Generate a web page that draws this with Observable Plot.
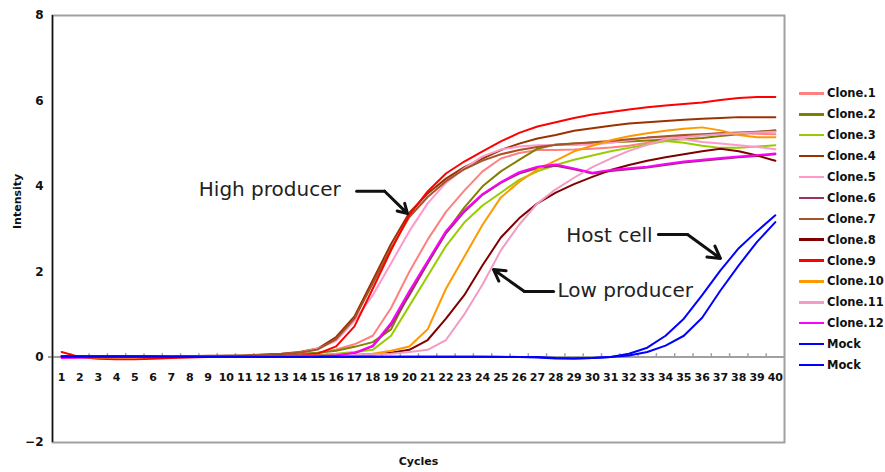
<!DOCTYPE html>
<html>
<head>
<meta charset="utf-8">
<script src="https://cdn.jsdelivr.net/npm/d3@7"></script>
<script src="https://cdn.jsdelivr.net/npm/@observablehq/plot@0.6"></script>
<style>
  html, body { margin: 0; padding: 0; background: #fff; }
  #wrap { position: relative; width: 885px; height: 472px; font-family: "DejaVu Sans", sans-serif; }
  #legend { position: absolute; left: 799px; top: 83px; }
  .row { display: flex; align-items: center; height: 20.9px; }
  .sw { width: 25px; height: 2.5px; margin-right: 3px; }
  .lab { font-size: 11.5px; font-weight: bold; color: #111; white-space: nowrap; }
  g[aria-label="annotation"] text { letter-spacing: 0.7px; }
</style>
</head>
<body>
<div id="wrap"><div id="legend"></div></div>
<script>
const cycles = d3.range(1, 41);
const yTicks = [-2, 0, 2, 4, 6, 8];
const seriesNames = ["Clone.1","Clone.2","Clone.3","Clone.4","Clone.5","Clone.6","Clone.7","Clone.8","Clone.9","Clone.10","Clone.11","Clone.12","Mock","Mock"];
const seriesColors = ["#FF8080","#808000","#99CC00","#993300","#FF99CC","#993366","#A5542A","#800000","#FF0000","#FF9900","#F29BC4","#FF00FF","#0000FF","#0000FF"];

const clone1 = [0.02,0.01,0.01,0.01,0.01,0.01,0.01,0.01,0.02,0.02,0.02,0.03,0.04,0.06,0.1,0.18,0.3,0.5,1.15,2.0,2.75,3.4,3.9,4.35,4.65,4.78,4.85,4.85,4.86,4.88,4.91,4.95,5.02,5.12,5.18,5.21,5.24,5.24,5.23,5.22];
const clone2 = [0.02,0.01,0.01,0.01,0.01,0.01,0.01,0.02,0.02,0.02,0.03,0.03,0.04,0.07,0.1,0.15,0.24,0.35,0.65,1.5,2.2,2.92,3.5,4.0,4.35,4.62,4.88,4.98,5.0,5.02,5.03,5.05,5.07,5.09,5.1,5.13,5.18,5.22,5.27,5.31];
const clone3 = [0.01,0.0,0.0,0.0,0.0,0.0,0.0,0.01,0.01,0.01,0.01,0.02,0.02,0.03,0.05,0.08,0.12,0.17,0.5,1.2,1.9,2.6,3.15,3.55,3.85,4.15,4.35,4.5,4.62,4.72,4.82,4.9,4.98,5.06,5.02,4.95,4.9,4.9,4.93,4.96];
const clone4 = [0.02,0.01,0.01,0.01,0.01,0.01,0.02,0.02,0.03,0.03,0.04,0.06,0.08,0.12,0.2,0.47,0.95,1.8,2.65,3.38,3.83,4.18,4.45,4.65,4.85,5.0,5.12,5.2,5.3,5.36,5.42,5.47,5.5,5.53,5.56,5.58,5.6,5.62,5.62,5.62];
const clone5 = [0.01,0.0,0.0,0.0,0.0,0.0,0.01,0.01,0.02,0.02,0.03,0.04,0.06,0.1,0.2,0.38,0.85,1.45,2.2,2.95,3.6,4.08,4.42,4.7,4.86,4.93,4.96,4.97,4.97,4.98,5.02,5.08,5.14,5.15,5.1,5.04,5.0,4.96,4.92,4.87];
const clone6 = [-0.01,-0.01,0.0,0.0,0.0,0.0,0.0,0.0,0.0,0.0,0.01,0.01,0.01,0.01,0.02,0.04,0.09,0.25,0.75,1.45,2.2,2.9,3.4,3.8,4.08,4.3,4.43,4.48,4.4,4.3,4.36,4.4,4.44,4.5,4.56,4.6,4.64,4.68,4.71,4.75];
const clone7 = [0.02,0.01,0.01,0.01,0.01,0.01,0.01,0.02,0.02,0.03,0.04,0.05,0.07,0.1,0.18,0.42,0.9,1.72,2.55,3.28,3.75,4.12,4.4,4.6,4.75,4.85,4.92,4.97,5.0,5.03,5.06,5.1,5.14,5.17,5.2,5.22,5.24,5.26,5.28,5.3];
const clone8 = [0.02,0.01,0.01,0.01,0.01,0.01,0.01,0.01,0.01,0.02,0.02,0.02,0.03,0.03,0.04,0.04,0.05,0.06,0.1,0.17,0.4,0.9,1.45,2.15,2.8,3.25,3.6,3.85,4.05,4.22,4.38,4.5,4.6,4.68,4.75,4.82,4.88,4.82,4.72,4.6];
const clone9 = [0.12,0.0,-0.04,-0.05,-0.05,-0.04,-0.02,-0.01,0.0,0.0,0.0,0.01,0.02,0.04,0.08,0.25,0.72,1.6,2.5,3.33,3.88,4.3,4.58,4.82,5.05,5.25,5.4,5.5,5.6,5.68,5.74,5.8,5.85,5.89,5.93,5.96,6.02,6.07,6.09,6.09];
const clone10 = [0.01,0.0,-0.01,-0.01,-0.01,0.0,0.0,0.0,0.0,0.01,0.01,0.01,0.02,0.02,0.03,0.04,0.05,0.08,0.15,0.25,0.65,1.6,2.35,3.1,3.74,4.1,4.4,4.6,4.82,4.95,5.08,5.17,5.24,5.3,5.35,5.38,5.31,5.2,5.15,5.15];
const clone11 = [0.01,0.0,0.0,0.0,0.0,0.0,0.0,0.0,0.01,0.01,0.01,0.02,0.02,0.03,0.03,0.04,0.05,0.06,0.08,0.12,0.17,0.4,1.0,1.7,2.5,3.1,3.6,3.93,4.2,4.45,4.65,4.83,4.97,5.1,5.15,5.19,5.22,5.24,5.26,5.28];
const clone12 = [-0.02,-0.01,0.0,0.0,0.0,0.0,0.0,0.0,0.0,0.0,0.01,0.01,0.01,0.01,0.02,0.04,0.1,0.27,0.8,1.55,2.25,2.95,3.43,3.82,4.1,4.33,4.46,4.51,4.42,4.32,4.38,4.42,4.46,4.52,4.58,4.62,4.66,4.7,4.73,4.77];
const mockA = [0.02,0.02,0.02,0.02,0.02,0.02,0.01,0.01,0.01,0.01,0.01,0.01,0.01,0.01,0.01,0.01,0.01,0.01,0.01,0.01,0.01,0.01,0.01,0.01,0.0,0.0,0.0,-0.02,-0.03,-0.02,0.0,0.08,0.22,0.5,0.9,1.45,2.03,2.55,2.95,3.32];
const mockB = [0.01,0.01,0.01,0.01,0.01,0.01,0.01,0.01,0.01,0.01,0.01,0.01,0.01,0.01,0.01,0.01,0.01,0.01,0.01,0.01,0.01,0.01,0.01,0.01,0.01,0.0,-0.01,-0.03,-0.03,-0.02,0.0,0.04,0.12,0.27,0.5,0.92,1.56,2.15,2.7,3.16];

const seriesValues = [clone1,clone2,clone3,clone4,clone5,clone6,clone7,clone8,clone9,clone10,clone11,clone12,mockA,mockB];

// annotations in data coordinates (cycle, intensity)
const annotations = [
  {label: "High producer", tx: 16.25, ty: 3.93, anchor: "end",   x0: 17.12, y0: 3.885, xb: 18.65, yb: 3.885, xt: 19.9, yt: 3.36},
  {label: "Low producer",  tx: 28.1,  ty: 1.56, anchor: "start", x0: 27.88, y0: 1.536, xb: 26.29, yb: 1.536, xt: 24.6, yt: 2.05},
  {label: "Host cell",     tx: 33.29, ty: 2.85, anchor: "end",   x0: 33.61, y0: 2.871, xb: 35.2,  yb: 2.871, xt: 37.0, yt: 2.31}
];

const boundaries = cycles.slice(0, -1).map(c => c + 0.5);

const lineMarks = seriesValues.map((vals, i) =>
  Plot.line(cycles, {x: d => d, y: (d, j) => vals[j], stroke: seriesColors[i], strokeWidth: 2})
);

const chart = Plot.plot({
  width: 885,
  height: 472,
  marginLeft: 52,
  marginRight: 101,
  marginTop: 15,
  marginBottom: 30,
  x: {domain: [0.5, 40.5], axis: null},
  y: {domain: [-2, 8], axis: null},
  style: {fontFamily: "DejaVu Sans, sans-serif", background: "white", color: "#111"},
  marks: [
    Plot.frame({stroke: "#a0a0a0", strokeWidth: 2}),
    Plot.ruleY([0], {stroke: "#a0a0a0", strokeWidth: 2, insetLeft: -4}),
    Plot.ruleX(boundaries, {x: d => d, y1: 0, y2: 0.08, stroke: "#a0a0a0", strokeWidth: 1.5}),
    Plot.ruleX([0.5], {stroke: "#111", strokeWidth: 1.5}),
    Plot.axisY({ticks: yTicks, tickSize: 0, tickPadding: 9, fontWeight: "bold", fontSize: 12, label: null}),
    Plot.text(["Intensity"], {frameAnchor: "left", dx: -35, rotate: -90, fontWeight: "bold", fontSize: 11}),
    Plot.text(cycles, {x: d => d, y: 0, dy: 20, text: d => String(d), fontWeight: "bold", fontSize: 11}),
    Plot.text(["Cycles"], {frameAnchor: "bottom", dy: 22, fontWeight: "bold", fontSize: 11}),
    ...lineMarks,
    Plot.line(annotations.flatMap((a, i) => [{i, x: a.x0, y: a.y0}, {i, x: a.xb, y: a.yb}]), {x: "x", y: "y", z: "i", stroke: "#111", strokeWidth: 3}),
    Plot.arrow(annotations, {x1: "xb", y1: "yb", x2: "xt", y2: "yt", stroke: "#111", strokeWidth: 3, headLength: 12, bend: false}),
    Plot.text(annotations.filter(a => a.anchor === "end"), {x: "tx", y: "ty", text: "label", textAnchor: "end", fontSize: 20, fill: "#222", ariaLabel: "annotation"}),
    Plot.text(annotations.filter(a => a.anchor === "start"), {x: "tx", y: "ty", text: "label", textAnchor: "start", fontSize: 20, fill: "#222", ariaLabel: "annotation"})
  ]
});

document.getElementById("wrap").prepend(chart);

const legend = document.getElementById("legend");
seriesNames.forEach((name, i) => {
  const row = document.createElement("div");
  row.className = "row";
  const sw = document.createElement("div");
  sw.className = "sw";
  sw.style.background = seriesColors[i];
  const lab = document.createElement("div");
  lab.className = "lab";
  lab.textContent = name;
  row.appendChild(sw);
  row.appendChild(lab);
  legend.appendChild(row);
});
</script>
</body>
</html>
